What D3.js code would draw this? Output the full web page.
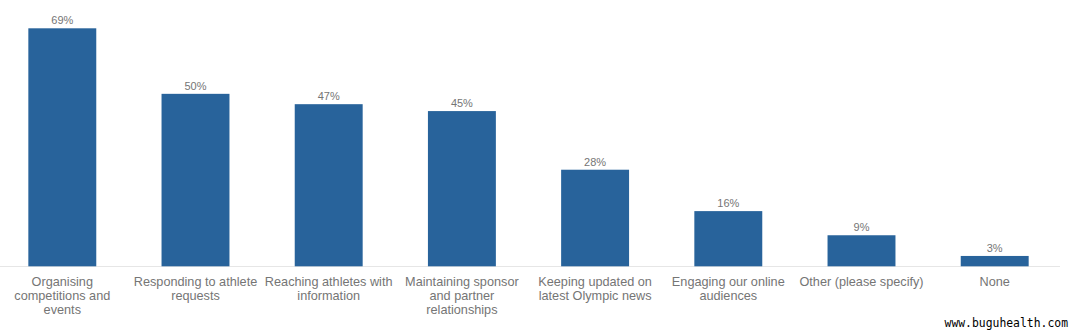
<!DOCTYPE html>
<html><head><meta charset="utf-8">
<script src="https://cdn.jsdelivr.net/npm/d3@7"></script>
<style>body{margin:0;background:#fff;}svg{display:block;}</style>
</head><body>
<svg id="c" width="1080" height="330"></svg>
<script>
const categories = [
  ["Organising","competitions and","events"],
  ["Responding to athlete","requests"],
  ["Reaching athletes with","information"],
  ["Maintaining sponsor","and partner","relationships"],
  ["Keeping updated on","latest Olympic news"],
  ["Engaging our online","audiences"],
  ["Other (please specify)"],
  ["None"]
];
const values = [69, 50, 47, 45, 28, 16, 9, 3];
const valueLabels = ["69%","50%","47%","45%","28%","16%","9%","3%"];

const svg = d3.select("#c");
const x = d3.scaleBand().domain(d3.range(values.length)).range([-4.3, 1061.3]).paddingInner(0.49).paddingOuter(0.245);
const y = d3.scaleLinear().domain([0, 69]).range([266.3, 28.3]);

svg.append("line").attr("x1", 0).attr("x2", 1060).attr("y1", 266.5).attr("y2", 266.5)
  .attr("stroke", "#e6e6e6").attr("stroke-width", 1);

svg.selectAll("rect.bar").data(values).join("rect").attr("class","bar")
  .attr("x", (d,i) => x(i)).attr("width", x.bandwidth())
  .attr("y", d => y(d)).attr("height", d => y(0) - y(d))
  .attr("fill", "#28639b");

svg.selectAll("text.val").data(values).join("text").attr("class","val")
  .attr("x", (d,i) => x(i) + x.bandwidth()/2).attr("y", d => y(d) - 4)
  .attr("text-anchor","middle").attr("font-family","Liberation Sans, Arial, sans-serif")
  .attr("font-size", 11).attr("fill","#757575").text((d,i) => valueLabels[i]);

const cat = svg.selectAll("text.cat").data(categories).join("text").attr("class","cat")
  .attr("x", (d,i) => x(i) + x.bandwidth()/2).attr("y", 286)
  .attr("text-anchor","middle").attr("font-family","Liberation Sans, Arial, sans-serif")
  .attr("font-size", 12.7).attr("fill","#757575");
cat.each(function(d){
  const t = d3.select(this);
  d.forEach((line, j) => t.append("tspan").attr("x", t.attr("x")).attr("dy", j === 0 ? 0 : 14).text(line));
});

svg.append("text").attr("x", 1068).attr("y", 327).attr("text-anchor","end")
  .attr("font-family","DejaVu Sans Mono, monospace").attr("font-size", 11.4).attr("fill","#000")
  .text("www.buguhealth.com");
</script>
</body></html>
